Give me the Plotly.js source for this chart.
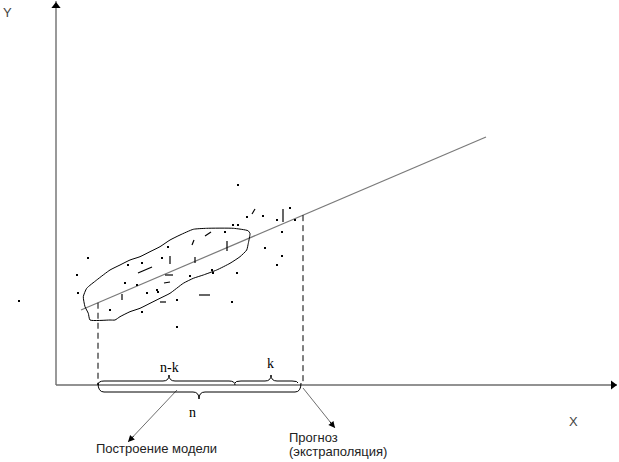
<!DOCTYPE html>
<html>
<head>
<meta charset="utf-8">
<script src="https://cdn.plot.ly/plotly-3.0.1.min.js"></script>
<style>
  html, body { margin: 0; padding: 0; background: #fff; }
  #chart { width: 619px; height: 462px; }
</style>
</head>
<body>
<div id="chart"></div>
<script>
// Coordinates: origin at the crossing of the X and Y axes, y grows upward.

// Observations (single points)
const dotX = [-37, 32, 21, 22, 72, 86, 69, 81, 54, 91, 86, 102, 169, 177, 182, 191, 112, 106, 156, 134, 157, 121, 176, 121, 181, 101, 182, 207, 221, 234, 226, 209, 226, 221, 239];
const dotY = [84, 127, 110, 92, 120, 122, 102, 100, 75, 92, 73, 93, 153, 160, 160, 168, 138, 127, 115, 109, 112, 85, 83, 58, 112, 95, 200, 169, 165, 177, 153, 137, 129, 120, 165];

// Observations drawn as short strokes: start and end of each stroke
const strokeX0 = [66, 82, 114, 136, 149, 139, 171, 109, 108, 143, 104, 196, 227];
const strokeY0 = [91, 112, 129, 140, 149, 128, 144, 110, 102, 90, 83, 171, 176];
const strokeX1 = [66, 96, 114, 138, 155, 139, 171, 117, 114, 154, 110, 199, 227];
const strokeY1 = [85, 118, 121, 145, 153, 122, 134, 110, 103, 90, 83, 176, 163];

// Outline of the observation cloud
const cloudX = [29, 27.3, 30.7, 40.7, 54, 64, 74, 84, 94, 104, 114, 124, 137.3, 150.7, 177.3, 192, 194, 192.3, 190.7, 184, 174, 160.7, 147.3, 137.3, 127.3, 114, 104, 94, 84, 74, 64, 59, 54, 34, 32.3, 29];
const cloudY = [78.3, 88.3, 96.7, 105, 115, 120, 125, 128.3, 133.3, 138.3, 145, 150, 155.7, 156.7, 156.7, 154.3, 151.5, 141.7, 135, 128.3, 121.7, 115, 110, 106.7, 101.7, 91.7, 86.7, 81.7, 76.7, 73.3, 68.3, 65, 65, 65, 71.7, 78.3];

// Regression line endpoints
const lineX = [25, 430];
const lineY = [75, 248];

// Split of the sample: model part ends at splitX[1]-k, forecast part to splitX[1]
const splitX = [42, 247];
const braceInner = 179;     // boundary between n-k and k

// Axis extents
const axisXEnd = 561;
const axisYEnd = 384;

const slope = (lineY[1] - lineY[0]) / (lineX[1] - lineX[0]);
const lineAt = x => lineY[0] + slope * (x - lineX[0]);

// dashed verticals from the regression line down to the X axis
const dashX = [], dashY = [];
splitX.forEach(x => { dashX.push(x, x, null); dashY.push(lineAt(x), 0, null); });

// strokes as one broken line
const sx = [], sy = [];
strokeX0.forEach((x, i) => { sx.push(x, strokeX1[i], null); sy.push(strokeY0[i], strokeY1[i], null); });

// curly brace path
function brace(x0, x1, tip, yEnd, yH, yTip) {
  const r = Math.min(6, (x1 - x0) / 6);
  return `M${x0},${yEnd} Q${x0},${yH} ${x0 + r},${yH} L${tip - r},${yH} Q${tip},${yH} ${tip},${yTip}` +
         ` Q${tip},${yH} ${tip + r},${yH} L${x1 - r},${yH} Q${x1},${yH} ${x1},${yEnd}`;
}

const braceLine = { color: '#000', width: 1 };
const shapes = [
  { type: 'path', xref: 'x', yref: 'y', path: brace(splitX[0], braceInner, 113, 0, 4, 10), line: braceLine },
  { type: 'path', xref: 'x', yref: 'y', path: brace(braceInner, splitX[1] - 5, 215, 2, 4, 10), line: braceLine },
  { type: 'path', xref: 'x', yref: 'y', path: brace(splitX[0], splitX[1] - 2, 143, 2, -7, -14), line: braceLine }
];

// pointer arrows: [tailX, tailY, headX, headY]
const pointers = [[121, -5, 72, -57], [247, -3, 279, -43]];

const traces = [
  // axes
  { x: [0, 0, null, 0, axisXEnd], y: [0, axisYEnd, null, 0, 0], mode: 'lines',
    line: { color: '#6e6e6e', width: 1.4 }, hoverinfo: 'skip' },
  { x: [0, axisXEnd - 4], y: [axisYEnd - 5, 0], mode: 'markers',
    marker: { symbol: ['triangle-up', 'triangle-right'], size: 8, color: '#000' }, hoverinfo: 'skip' },
  // regression line
  { x: lineX, y: lineY, mode: 'lines', line: { color: '#7a7a7a', width: 1.2 }, hoverinfo: 'skip' },
  // dashed verticals
  { x: dashX, y: dashY, mode: 'lines', line: { color: '#000', width: 1, dash: '6px,4px' }, hoverinfo: 'skip' },
  // cloud outline
  { x: cloudX, y: cloudY, mode: 'lines', line: { color: '#000', width: 1, shape: 'spline', smoothing: 0.5 }, hoverinfo: 'skip' },
  // observations
  { x: dotX, y: dotY, mode: 'markers', marker: { symbol: 'square', size: 2, color: '#000' }, hoverinfo: 'skip' },
  { x: sx, y: sy, mode: 'lines', line: { color: '#000', width: 1.2 }, hoverinfo: 'skip' },
  // pointer shafts
  { x: pointers.flatMap(p => [p[0], p[2], null]), y: pointers.flatMap(p => [p[1], p[3], null]),
    mode: 'lines', line: { color: '#6e6e6e', width: 1 }, hoverinfo: 'skip' }
];

const sans = { family: 'Liberation Sans, Arial, sans-serif', size: 13, color: '#222' };
const serif = { family: 'Liberation Serif, Times New Roman, serif', size: 14, color: '#000' };

const annotations = [
  { x: -49, y: 373, text: 'Y', font: { family: sans.family, size: 13, color: '#444' } },
  { x: 517, y: -36, text: 'X', font: { family: sans.family, size: 13, color: '#444' } },
  { x: 113, y: 18, text: 'n-k', font: serif },
  { x: 214, y: 22, text: 'k', font: serif },
  { x: 136, y: -27, text: 'n', font: serif },
  { x: 100, y: -63, text: 'Построение модели', font: sans },
  { x: 231, y: -52, text: 'Прогноз', font: sans, xanchor: 'left' },
  { x: 231, y: -66, text: '(экстраполяция)', font: sans, xanchor: 'left' }
].map(a => Object.assign({ xref: 'x', yref: 'y', showarrow: false, xanchor: 'center', yanchor: 'middle' }, a));

// black arrowheads at the ends of the pointers
pointers.forEach(p => {
  const dx = p[2] - p[0], dy = p[3] - p[1], len = Math.hypot(dx, dy);
  annotations.push({
    x: p[2], y: p[3], xref: 'x', yref: 'y', text: '', showarrow: true,
    ax: p[2] - dx / len * 10, ay: p[3] - dy / len * 10, axref: 'x', ayref: 'y',
    arrowhead: 2, arrowsize: 1.3, arrowwidth: 1, arrowcolor: '#000'
  });
});

const layout = {
  width: 619, height: 462,
  margin: { l: 0, r: 0, t: 0, b: 0, pad: 0 },
  paper_bgcolor: '#fff', plot_bgcolor: '#fff',
  showlegend: false,
  xaxis: { range: [-56, 563], visible: false, fixedrange: true },
  yaxis: { range: [-77, 385], visible: false, fixedrange: true },
  shapes, annotations
};

Plotly.newPlot('chart', traces, layout, { staticPlot: true, displayModeBar: false });
</script>
</body>
</html>
